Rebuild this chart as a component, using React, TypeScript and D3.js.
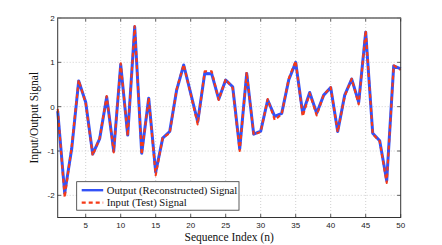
import React from 'react'
import * as d3 from 'd3'

const seqIndex = d3.range(1, 51)

const outputSignal = [
  -0.1, -1.95, -0.95, 0.58, 0.1, -1.07, -0.72, 0.22, -1.0, 0.95,
  -0.64, 1.8, -1.05, 0.19, -1.48, -0.71, -0.56, 0.38, 0.94, 0.3,
  -0.34, 0.75, 0.74, 0.17, 0.6, 0.45, -0.95, 0.75, -0.62, -0.55,
  0.15, -0.22, -0.15, 0.6, 1.0, -0.15, 0.32, -0.15, 0.26, 0.43,
  -0.56, 0.26, 0.62, 0.1, 1.68, -0.6, -0.77, -1.67, 0.92, 0.85
]

const inputSignal = [
  -0.05, -2.05, -0.9, 0.6, 0.08, -1.1, -0.7, 0.24, -1.03, 0.98,
  -0.66, 1.82, -1.08, 0.2, -1.55, -0.7, -0.6, 0.4, 0.95, 0.28,
  -0.4, 0.8, 0.8, 0.15, 0.62, 0.42, -1.0, 0.78, -0.63, -0.57,
  0.17, -0.3, -0.17, 0.63, 1.03, -0.22, 0.3, -0.2, 0.27, 0.44,
  -0.57, 0.24, 0.63, 0.05, 1.72, -0.62, -0.78, -1.72, 0.93, 0.83
]

const xTicks = [5, 10, 15, 20, 25, 30, 35, 40, 45, 50]
const yTicks = [-2, -1, 0, 1, 2]

const legendLabels = ['Output (Reconstructed) Signal', 'Input (Test) Signal']

const W = 442
const H = 245
const left = 57.7
const right = 400.7
const top = 18
const bottom = 217.5

const BLUE = '#3352f7'
const RED = '#f53a17'

export default function App() {
  const x = d3.scaleLinear().domain([1, 50]).range([left, right])
  const y = d3.scaleLinear().domain([-2.5, 2]).range([bottom, top])

  const line = d3
    .line<number>()
    .x((d, i) => x(seqIndex[i]))
    .y(d => y(d))

  const tickFont = { fontFamily: 'Liberation Sans, Arial, sans-serif', fontSize: 8, fill: '#222' }
  const serif = { fontFamily: 'Liberation Serif, Times New Roman, serif', fill: '#111' }

  return (
    <svg
      width={W}
      height={H}
      style={{ position: 'absolute', left: 0, top: 0, background: '#fff' }}
    >
      {/* grid */}
      <g stroke="#c4c4c4" strokeWidth={0.8} strokeDasharray="1,2">
        {xTicks.filter(t => t < 50).map(t => (
          <line key={'gx' + t} x1={x(t)} x2={x(t)} y1={top} y2={bottom} />
        ))}
        {yTicks.map(t => (
          <line key={'gy' + t} x1={left} x2={right} y1={y(t)} y2={y(t)} />
        ))}
      </g>

      {/* ticks inward on all sides */}
      <g stroke="#333" strokeWidth={0.8}>
        {xTicks.map(t => (
          <g key={'tx' + t}>
            <line x1={x(t)} x2={x(t)} y1={bottom} y2={bottom - 3.5} />
            <line x1={x(t)} x2={x(t)} y1={top} y2={top + 3.5} />
          </g>
        ))}
        {yTicks.map(t => (
          <g key={'ty' + t}>
            <line x1={left} x2={left + 3.5} y1={y(t)} y2={y(t)} />
            <line x1={right} x2={right - 3.5} y1={y(t)} y2={y(t)} />
          </g>
        ))}
      </g>

      {/* lines */}
      <path d={line(outputSignal) || ''} fill="none" stroke={BLUE} strokeWidth={3} strokeLinejoin="round" />
      <path
        d={line(inputSignal) || ''}
        fill="none"
        stroke={RED}
        strokeWidth={2.1}
        strokeDasharray="4,3"
        strokeLinejoin="round"
      />

      {/* axes box */}
      <rect x={left} y={top} width={right - left} height={bottom - top} fill="none" stroke="#333" strokeWidth={1} />
      <line x1={left} x2={right} y1={top} y2={top} stroke="#888" strokeWidth={1.5} />

      {/* tick labels */}
      {xTicks.map(t => (
        <text key={'lx' + t} x={x(t)} y={bottom + 10.5} textAnchor="middle" {...tickFont}>
          {t}
        </text>
      ))}
      {yTicks.map(t => (
        <text key={'ly' + t} x={left - 3} y={y(t) + 3} textAnchor="end" {...tickFont}>
          {t}
        </text>
      ))}

      {/* axis labels */}
      <text x={(left + right) / 2} y={241} textAnchor="middle" fontSize={11.5} {...serif}>
        Sequence Index (n)
      </text>
      <text
        transform={`translate(38,${(top + bottom) / 2}) rotate(-90)`}
        textAnchor="middle"
        fontSize={11.5}
        {...serif}
      >
        Input/Output Signal
      </text>

      {/* legend */}
      <g transform="translate(76.7,181.7)">
        <rect width={162.3} height={28.5} fill="#fff" stroke="#333" strokeWidth={0.8} />
        <line x1={5} x2={26.5} y1={8.5} y2={8.5} stroke={BLUE} strokeWidth={2.4} />
        <line x1={5} x2={26.5} y1={21} y2={21} stroke={RED} strokeWidth={2.2} strokeDasharray="4,3" />
        <text x={30} y={12} fontSize={10.7} {...serif}>{legendLabels[0]}</text>
        <text x={30} y={24.5} fontSize={10.7} {...serif}>{legendLabels[1]}</text>
      </g>
    </svg>
  )
}
